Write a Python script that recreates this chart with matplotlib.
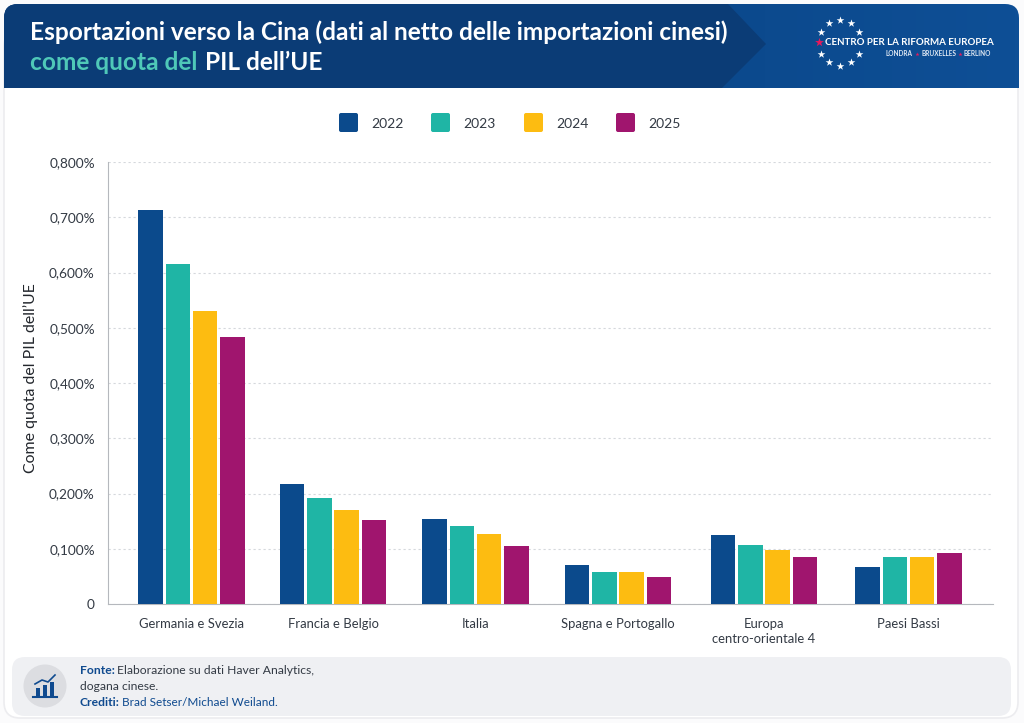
import numpy as np
import matplotlib
matplotlib.use("Agg")
import matplotlib.pyplot as plt
from matplotlib.patches import FancyBboxPatch, Polygon, Rectangle, Circle

plt.rcParams['font.family'] = ['Lato', 'DejaVu Sans']

regioni = ["Germania e Svezia", "Francia e Belgio", "Italia", "Spagna e Portogallo",
           "Europa\ncentro-orientale 4", "Paesi Bassi"]
anni = ["2022", "2023", "2024", "2025"]
v2022 = [0.713, 0.217, 0.154, 0.071, 0.125, 0.067]
v2023 = [0.616, 0.192, 0.141, 0.058, 0.107, 0.085]
v2024 = [0.530, 0.170, 0.126, 0.058, 0.097, 0.085]
v2025 = [0.483, 0.152, 0.105, 0.049, 0.085, 0.092]
colori = ["#0b4a8c", "#1fb5a5", "#fdbc11", "#a0156e"]
tick_y = [0, 0.1, 0.2, 0.3, 0.4, 0.5, 0.6, 0.7, 0.8]
tick_lab = ["0", "0,100%", "0,200%", "0,300%", "0,400%", "0,500%", "0,600%", "0,700%", "0,800%"]

W, H = 1024, 723
fig = plt.figure(figsize=(W / 100, H / 100), dpi=100, facecolor="#fbfbfc")

# fondo in coordinate pixel
bg = fig.add_axes([0, 0, 1, 1], zorder=0)
bg.axis("off")

bg.add_patch(FancyBboxPatch((4, 30), 1014, 688, boxstyle="round,pad=0,rounding_size=16",
                            fc="white", ec="#ececef", lw=1.2))

# testata con gradiente
testata = FancyBboxPatch((4, 4), 1015, 110, boxstyle="round,pad=0,rounding_size=14",
                         fc="none", ec="none")
bg.add_patch(testata)
grad = np.linspace(0, 1, 256).reshape(1, -1)
cmap = matplotlib.colors.LinearSegmentedColormap.from_list("t", ["#0b3f7b", "#0a4586", "#0e4f96"])
im = bg.imshow(grad, extent=(4, 1019, 88, 4), cmap=cmap, aspect="auto", zorder=1)
im.set_clip_path(testata)
bg.set_xlim(0, W)
bg.set_ylim(H, 0)
bg.add_patch(Polygon([(4, 88), (4, 4), (728, 4), (766, 44), (722, 88)],
                     closed=True, fc="#0b3c76", ec="none", zorder=2, clip_path=testata))

bg.text(30, 32, "Esportazioni verso la Cina (dati al netto delle importazioni cinesi)",
        color="white", fontsize=17.6, fontweight="bold", va="center", zorder=3)
bg.text(30, 63, "come quota del", color="#4fc8b8", fontsize=17.6, fontweight="bold",
        va="center", zorder=3)
bg.text(205, 63, "PIL dell’UE", color="white", fontsize=17.6, fontweight="bold",
        va="center", zorder=3)

# logo: cerchio di stelle
sx = [840, 829, 851, 821, 859, 821, 859, 829, 851, 840]
sy = [20, 23, 23, 32, 32, 54, 54, 62, 62, 66]
bg.scatter(sx, sy, marker="*", s=34, c="white", lw=0, zorder=3)
bg.scatter([819], [42], marker="*", s=44, c="#e8185c", lw=0, zorder=3)
bg.text(825, 42.5, "CENTRO PER LA RIFORMA EUROPEA", color="white", fontsize=7.0,
        fontweight="bold", va="center", zorder=4)
bg.text(912, 54, "LONDRA", color="#dfe8f3", fontsize=4.7, fontweight="bold", va="center",
        ha="right", zorder=4)
bg.text(956, 54, "BRUXELLES", color="#dfe8f3", fontsize=4.7, fontweight="bold", va="center",
        ha="right", zorder=4)
bg.text(991, 54, "BERLINO", color="#dfe8f3", fontsize=4.7, fontweight="bold", va="center",
        ha="right", zorder=4)
bg.scatter([916.5, 960], [54, 54], marker="*", s=9, c="#e8185c", lw=0, zorder=4)

# legenda
for x0, a, c in zip([339, 431, 524, 616], anni, colori):
    bg.add_patch(FancyBboxPatch((x0, 113), 19, 19, boxstyle="round,pad=0,rounding_size=2",
                                fc=c, ec="none", zorder=3))
    bg.text(x0 + 32, 123.5, a, color="#333a44", fontsize=10, va="center", zorder=3)

# grafico, asse x in pixel per tenere i gruppi dove servono
ax = fig.add_axes([108 / W, 1 - 604 / H, (993 - 108) / W, (604 - 162) / H], zorder=2)
ax.patch.set_alpha(0)
centri = np.array([191.5, 333, 475.5, 618, 764, 908.5]) - 108
larg = 24.5
passo = 27.4
for i, (serie, c) in enumerate(zip([v2022, v2023, v2024, v2025], colori)):
    ax.bar(centri + (i - 1.5) * passo, serie, width=larg, color=c, zorder=3, label=anni[i])

ax.set_xlim(0, 993 - 108)
ax.set_ylim(0, 0.8)
ax.set_yticks(tick_y)
ax.set_yticklabels(tick_lab)
ax.set_xticks(centri)
ax.set_xticklabels(regioni, linespacing=1.35)
ax.tick_params(axis="x", length=0, labelsize=9.4, labelcolor="#333a44", pad=10)
ax.tick_params(axis="y", length=0, labelsize=9.8, labelcolor="#333a44", pad=9.5)
ax.grid(axis="y", color="#d5d8dc", lw=0.8, ls=(0, (2, 2.5)), zorder=0)
for s in ["top", "right"]:
    ax.spines[s].set_visible(False)
ax.spines["left"].set_color("#b5b8bd")
ax.spines["bottom"].set_color("#b5b8bd")
ax.set_ylabel("Come quota del PIL dell’UE", fontsize=11.4, color="#22262c")
ax.yaxis.set_label_coords(-0.079, 0.51)

# riquadro fonte
bg.add_patch(FancyBboxPatch((12, 657), 999, 59, boxstyle="round,pad=0,rounding_size=13",
                            fc="#eff0f3", ec="none", zorder=3))
bg.add_patch(Circle((45, 686), 21.5, fc="#dcdde1", ec="none", zorder=4))
bg.text(80, 670, "Fonte:", color="#0f4a8f", fontsize=8.7, fontweight="bold", va="center", zorder=5)
bg.text(117, 670, "Elaborazione su dati Haver Analytics,", color="#333a44", fontsize=8.7, va="center", zorder=5)
bg.text(80, 686.5, "dogana cinese.", color="#333a44", fontsize=8.7, va="center", zorder=5)
bg.text(80, 703, "Crediti:", color="#0f4a8f", fontsize=8.7, fontweight="bold", va="center", zorder=5)
bg.text(122, 703, "Brad Setser/Michael Weiland.", color="#0f4a8f", fontsize=8.5, va="center", zorder=5)

# icona
for xb, h in zip([35.5, 42.5, 49.5], [8, 11, 14]):
    bg.add_patch(Rectangle((xb, 696 - h), 4.5, h, fc="#0f4a8f", ec="none", zorder=5))
bg.plot([33, 57], [697, 697], color="#0f4a8f", lw=1.5, zorder=5)
bg.plot([35, 42, 48, 55], [684, 680, 682, 675], color="#0f4a8f", lw=1.2, zorder=5)

fig.savefig("out.png", dpi=100, facecolor=fig.get_facecolor())
